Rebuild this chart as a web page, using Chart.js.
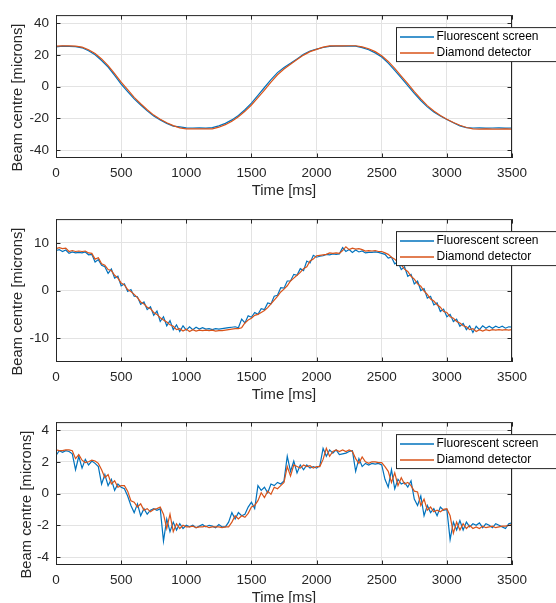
<!DOCTYPE html>
<html lang="en">
<head>
  <meta charset="UTF-8" />
  <title>Beam centre: fluorescent screen vs diamond detector</title>
  <script src="https://cdn.jsdelivr.net/npm/chart.js"></script>
  <style>
    body {
      margin: 0;
      width: 556px;
      height: 603px;
      overflow: hidden;
      position: relative;
      background: #fff;
    }
    canvas {
      position: absolute;
      left: 0;
    }
  </style>
</head>
<body>

  <canvas id="c1" width="556" height="210" style="top:0px"></canvas>
  <canvas id="c2" width="556" height="210" style="top:204px"></canvas>
  <canvas id="c3" width="556" height="210" style="top:407px"></canvas>

  <script>
    // sample spacing in ms (panel 1 read every 50 ms, panels 2-3 every 25 ms)
    const step1 = 50;
    const step2 = 25;

    const xTicks = [0, 500, 1000, 1500, 2000, 2500, 3000, 3500];
    const yTicks1 = [-40, -20, 0, 20, 40];
    const yTicks2 = [-10, 0, 10];
    const yTicks3 = [-4, -2, 0, 2, 4];

    const seriesNames = ["Fluorescent screen", "Diamond detector"];

    // panel 1
    const screen1 = [
      25.0, 25.4, 25.3, 25.2, 24.4, 22.6, 20.0, 16.4, 12.3, 7.0,
      1.5, -3.2, -7.8, -11.6, -15.3, -18.6, -21.0, -23.2, -24.9, -25.4,
      -26.0, -26.1, -26.0, -26.2, -25.9, -24.8, -23.2, -21.0, -18.2, -14.6,
      -10.4, -5.6, -0.6, 4.4, 8.8, 12.0, 14.6, 17.4, 20.3, 22.4,
      23.6, 24.6, 25.3, 25.4, 25.4, 25.5, 25.4, 24.5, 23.2, 21.2,
      18.6, 14.8, 10.2, 5.4, 0.6, -4.3, -8.8, -12.8, -16.0, -18.6,
      -20.8, -22.8, -24.8, -25.9, -26.1, -26.0, -26.2, -26.1, -26.0, -26.2,
      -26.1
    ];
    const diamond1 = [
      25.4, 25.6, 25.6, 25.5, 24.8, 23.2, 20.8, 17.4, 13.2, 8.2,
      2.8, -2.0, -6.8, -10.8, -14.6, -18.0, -20.6, -22.8, -24.6, -26.0,
      -26.6, -26.7, -26.7, -26.6, -26.7, -25.6, -24.0, -21.8, -19.0, -15.6,
      -11.6, -7.0, -2.2, 2.8, 7.4, 11.0, 14.0, 17.0, 19.8, 22.0,
      23.4, 24.8, 25.6, 25.7, 25.6, 25.7, 25.7, 25.0, 23.8, 22.0,
      19.4, 15.8, 11.4, 6.6, 1.8, -3.2, -7.8, -12.0, -15.4, -18.2,
      -20.6, -22.6, -24.4, -25.8, -26.7, -26.8, -26.7, -26.8, -26.8, -26.7,
      -26.8
    ];

    // panel 2
    const screen2 = [
      8.4, 8.6, 8.2, 8.5, 7.8, 8.1, 7.9, 8.0, 7.9, 8.1,
      7.5, 7.6, 6.0, 6.5, 5.3, 5.0, 3.6, 4.5, 2.6, 3.0,
      1.0, 1.4, -0.2, 0.2, -1.2, -1.3, -2.9, -2.4, -4.0, -3.4,
      -5.2, -4.3, -6.5, -5.5, -7.4, -6.3, -8.2, -7.2, -8.6, -7.4,
      -8.3, -7.6, -8.2, -7.7, -8.1, -7.8, -8.1, -8.0, -8.2, -8.0,
      -8.1, -8.0, -7.9, -7.8, -7.7, -7.6, -7.8, -6.0, -6.8, -5.3,
      -5.6, -4.6, -5.0, -3.8, -4.0, -2.6, -2.8, -1.2, -1.0, 0.6,
      0.5, 2.0, 2.0, 3.4, 3.2, 4.6, 4.2, 6.2, 5.8, 7.4,
      7.0, 7.2, 7.3, 7.6, 7.5, 7.7, 7.6, 7.7, 9.0, 8.2,
      8.6, 8.0, 8.5, 8.1, 8.3, 7.9, 8.0, 8.0, 8.1, 8.0,
      7.8, 7.6, 6.8, 7.0, 5.6, 6.0, 4.4, 5.0, 3.0, 3.4,
      1.4, 2.0, 0.0, 0.4, -1.6, -1.2, -3.0, -2.6, -4.4, -3.9,
      -5.5, -5.0, -6.5, -6.0, -7.5, -6.9, -8.2, -7.4, -8.8, -7.5,
      -8.2, -7.4, -7.9, -7.5, -7.9, -7.5, -7.8, -7.5, -7.9, -7.6,
      -7.7
    ];
    const diamond2 = [
      8.8, 9.0, 8.8, 8.9, 8.2, 8.4, 8.2, 8.3, 8.2, 8.3,
      7.9, 7.8, 6.6, 6.9, 5.6, 5.3, 4.4, 4.2, 3.2, 2.6,
      1.6, 1.2, 0.2, -0.2, -0.8, -1.5, -2.4, -2.8, -3.5, -3.8,
      -4.6, -5.0, -5.7, -6.2, -6.6, -7.2, -7.5, -8.2, -8.0, -8.5,
      -8.1, -8.6, -8.2, -8.5, -8.3, -8.4, -8.3, -8.4, -8.3, -8.5,
      -8.4, -8.4, -8.3, -8.2, -8.1, -8.0, -8.0, -7.8, -6.8, -6.2,
      -5.8, -5.2, -5.0, -4.6, -4.2, -3.6, -2.8, -2.0, -1.2, -0.3,
      0.3, 1.0, 2.0, 2.6, 3.2, 3.8, 4.6, 5.0, 6.2, 6.6,
      7.3, 7.4, 7.5, 7.6, 7.9, 7.8, 7.9, 7.8, 8.4, 9.2,
      8.6, 8.9, 8.7, 8.8, 8.6, 8.3, 8.4, 8.3, 8.4, 8.2,
      8.2, 7.9, 7.6, 7.0, 6.6, 5.9, 5.4, 4.5, 4.0, 3.0,
      2.4, 1.4, 0.9, -0.1, -0.8, -1.8, -2.2, -3.0, -3.5, -4.4,
      -4.6, -5.5, -5.8, -6.5, -6.8, -7.4, -7.6, -8.2, -8.0, -8.6,
      -8.2, -8.5, -8.2, -8.4, -8.2, -8.3, -8.2, -8.3, -8.2, -8.3,
      -8.2
    ];

    // panel 3
    const screen3 = [
      2.4, 2.7, 2.6, 2.7, 2.65, 2.5, 1.5, 2.35, 1.6, 2.15,
      1.8, 2.05, 1.9, 1.7, 0.6, 1.2, 0.5, 0.9, 0.2, 0.6,
      0.4, 0.3, -0.15, -0.75, -1.2, -0.65, -1.4, -0.95, -1.3, -1.05,
      -0.95, -1.05, -0.95, -3.0, -1.6, -2.4, -1.8, -2.3, -1.9, -2.2,
      -2.0, -2.1, -2.0, -2.15, -2.05, -1.95, -2.1, -2.0, -2.05, -2.15,
      -1.95, -2.1, -2.1, -1.8, -1.2, -1.6, -1.2, -1.4, -1.3, -0.85,
      -0.55, -0.95, 0.5, 0.2, 0.4, 0.05, 0.6, 0.5, 0.7, 0.6,
      0.8, 2.35, 1.4, 2.05, 1.3, 1.8, 1.5, 1.8, 1.6, 1.7,
      1.6, 1.75, 2.85, 2.35, 2.75, 2.55, 2.75, 2.45, 2.5, 2.55,
      2.65, 2.7, 1.4, 2.2, 1.7, 1.9, 1.8, 1.9, 1.85, 1.9,
      1.8, 0.9, 0.4, 1.5, 0.3, 0.9, 0.6, 0.7, 0.4, 0.8,
      -0.35, -0.75, -0.15, -1.4, -0.75, -1.2, -0.95, -1.4, -0.85, -1.05,
      -1.0, -2.9, -1.8, -2.3, -1.7, -2.3, -1.8, -2.1, -1.9, -2.0,
      -1.85, -2.15, -1.9, -2.0, -2.15, -1.9, -2.0, -2.1, -2.2, -1.9,
      -1.85
    ];
    const diamond3 = [
      2.75, 2.7, 2.7, 2.75, 2.75, 2.7, 2.2, 2.45, 2.1, 1.95,
      2.0, 2.1, 2.05, 1.9, 1.5, 1.0, 1.2, 0.6, 0.8, 0.4,
      0.5, 0.5, 0.15, -0.45, -0.55, -0.85, -0.65, -1.05, -0.95, -1.15,
      -1.0, -0.95, -0.85, -1.3, -2.2, -1.3, -2.4, -1.9, -2.2, -2.0,
      -2.1, -2.1, -2.05, -2.15, -2.1, -2.1, -2.05, -2.15, -2.1, -2.1,
      -2.1, -2.15, -2.1, -2.1, -1.8, -1.4, -1.6, -1.4, -1.5, -1.25,
      -0.85, -0.75, -0.45, 0.05, -0.25, 0.15, -0.05, 0.4, 0.3, 0.5,
      0.7, 1.7, 1.1, 1.8, 1.7, 1.6, 1.8, 1.7, 1.75, 1.6,
      1.7, 1.7, 2.15, 2.85, 2.35, 2.65, 2.75, 2.65, 2.75, 2.65,
      2.75, 2.65, 2.2, 1.9, 2.3, 2.0, 1.9, 2.0, 2.0, 1.95,
      1.95, 1.7, 1.4, 0.7, 1.3, 0.5, 1.0, 0.6, 0.7, 0.5,
      0.15, 0.1, -0.75, -0.35, -1.05, -0.85, -1.15, -1.05, -1.15, -1.0,
      -0.95, -1.4, -2.5, -1.8, -2.3, -1.9, -2.2, -2.0, -2.2, -2.1,
      -2.2, -2.05, -2.15, -2.1, -2.05, -2.15, -2.1, -2.05, -2.05, -2.0,
      -1.95
    ];

    const BLUE = "#0072BD";
    const ORANGE = "#D95319";
    const GRID = "#e3e3e3";
    const INK = "#262626";
    const FONT = "'Liberation Sans', Arial, Helvetica, sans-serif";

    // box, inner tick marks, legend and y label drawn on top of the plot
    const frame = {
      id: "frame",
      afterDraw(chart, args, opts) {
        const { ctx, chartArea: a, scales: { x, y } } = chart;
        ctx.save();
        ctx.strokeStyle = INK;
        ctx.lineWidth = 1;

        ctx.beginPath();
        x.ticks.forEach(t => {
          const px = Math.round(x.getPixelForValue(t.value)) + 0.5;
          ctx.moveTo(px, a.top); ctx.lineTo(px, a.top + 4.5);
          ctx.moveTo(px, a.bottom); ctx.lineTo(px, a.bottom - 4.5);
        });
        y.ticks.forEach(t => {
          const py = Math.round(y.getPixelForValue(t.value)) + 0.5;
          ctx.moveTo(a.left, py); ctx.lineTo(a.left + 4.5, py);
          ctx.moveTo(a.right, py); ctx.lineTo(a.right - 4.5, py);
        });
        ctx.stroke();
        ctx.strokeRect(a.left + 0.5, a.top + 0.5, a.right - a.left - 1, a.bottom - a.top - 1);

        // legend
        const lx = 396.5, ly = a.top + 12.5;
        ctx.fillStyle = "#fff";
        ctx.fillRect(lx, ly, 170, 34);
        ctx.strokeRect(lx, ly, 170, 34);
        const colours = [BLUE, ORANGE];
        ctx.font = "12px " + FONT;
        ctx.textBaseline = "middle";
        seriesNames.forEach((name, i) => {
          const ry = ly + 9.5 + i * 16;
          ctx.strokeStyle = colours[i];
          ctx.lineWidth = 1.5;
          ctx.beginPath();
          ctx.moveTo(400, ry); ctx.lineTo(434, ry);
          ctx.stroke();
          ctx.fillStyle = "#000";
          ctx.fillText(name, 436.5, ry);
        });

        // y axis label
        ctx.translate(opts.titleX, (a.top + a.bottom) / 2 + 11);
        ctx.rotate(-Math.PI / 2);
        ctx.font = "14.8px " + FONT;
        ctx.textAlign = "center";
        ctx.fillStyle = INK;
        ctx.fillText("Beam centre [microns]", 0, 0);
        ctx.restore();
      }
    };

    function makePanel(id, step, screen, diamond, yMin, yMax, yTicks, titleX) {
      const points = arr => arr.map((v, i) => ({ x: i * step, y: v }));
      return new Chart(document.getElementById(id), {
        type: "line",
        data: {
          datasets: [
            { label: seriesNames[0], data: points(screen), borderColor: BLUE, borderWidth: 1.2, pointRadius: 0, tension: 0, order: 1 },
            { label: seriesNames[1], data: points(diamond), borderColor: ORANGE, borderWidth: 1.2, pointRadius: 0, tension: 0, order: 0 }
          ]
        },
        options: {
          responsive: false,
          animation: false,
          events: [],
          layout: { padding: { top: 13, right: 44, left: 0, bottom: 0 } },
          plugins: {
            legend: { display: false },
            tooltip: { enabled: false },
            frame: { titleX: titleX }
          },
          scales: {
            x: {
              type: "linear",
              min: 0,
              max: 3500,
              afterBuildTicks: s => { s.ticks = xTicks.map(v => ({ value: v })); },
              afterFit: s => { s.height = 52; },
              grid: { color: GRID, drawTicks: false },
              border: { display: false },
              ticks: {
                padding: 7,
                color: INK,
                maxRotation: 0,
                autoSkip: false,
                font: { family: FONT, size: 13.5 },
                callback: v => String(v)
              },
              title: {
                display: true,
                text: "Time [ms]",
                color: INK,
                font: { family: FONT, size: 14.8 },
                padding: { top: 0, bottom: 10 }
              }
            },
            y: {
              min: yMin,
              max: yMax,
              afterBuildTicks: s => { s.ticks = yTicks.map(v => ({ value: v })); },
              afterFit: s => { s.width = 56; },
              grid: { color: GRID, drawTicks: false },
              border: { display: false },
              ticks: {
                padding: 7,
                color: INK,
                autoSkip: false,
                font: { family: FONT, size: 13.5 },
                callback: v => String(v)
              }
            }
          }
        },
        plugins: [frame]
      });
    }

    makePanel("c1", step1, screen1, diamond1, -45, 45, yTicks1, 18);
    makePanel("c2", step2, screen2, diamond2, -15, 15, yTicks2, 18);
    makePanel("c3", step2, screen3, diamond3, -4.5, 4.5, yTicks3, 27);
  </script>

</body>
</html>
